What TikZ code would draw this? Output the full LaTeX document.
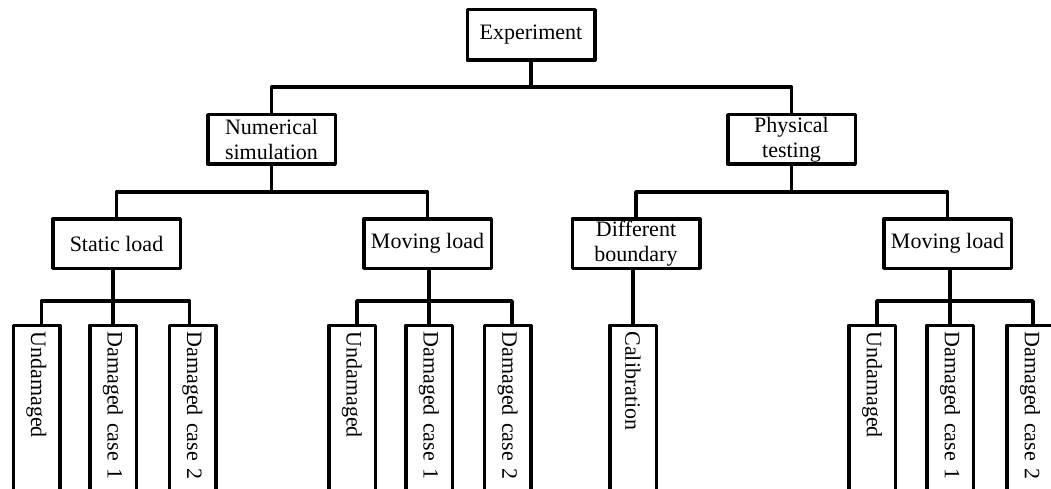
\documentclass[tikz,border=0pt]{standalone}
\usepackage{fontspec}
\setmainfont{Liberation Serif}
\usetikzlibrary{calc}
\begin{document}
\begin{tikzpicture}[x=1pt,y=-1pt,
  line width=3.5pt, line join=round,
  box/.style={draw, inner sep=0pt, align=center,
    font=\fontsize{22}{25}\selectfont},
  topbox/.style={box, minimum width=127.5pt, minimum height=50.5pt},
  midbox/.style={box, minimum width=127.5pt, minimum height=49.5pt},
  leafbox/.style={draw, rotate=-90, anchor=west, inner xsep=6pt, inner ysep=0pt,
    text width=188pt, align=left, minimum height=46.5pt,
    font=\fontsize{22}{25}\selectfont}]
\useasboundingbox (0,0) rectangle (1051,489);
\clip (0,0) rectangle (1051,489);

% bus levels
\coordinate (b0) at (0,87);
\coordinate (b1) at (0,192);
\coordinate (b2) at (0,301);

% tree nodes
\node[topbox] (exp) at (531,35) {Experiment};
\node[midbox] (num) at (271.5,139.5) {Numerical\\simulation};
\node[midbox] (phy) at (791.5,139.5) {Physical\\testing};
\node[midbox] (sta) at (116.5,243.5) {Static load};
\node[midbox] (mvl) at (427.5,243.5) {Moving load};
\node[midbox] (dif) at (636,243.5) {Different\\boundary};
\node[midbox] (mvr) at (947.5,243.5) {Moving load};

% leaves
\node[leafbox] (su)  at (36.5,323.75)  {Undamaged};
\node[leafbox] (s1)  at (113,323.75)   {Damaged case 1};
\node[leafbox] (s2)  at (192.5,323.75) {Damaged case 2};
\node[leafbox] (mu)  at (352,323.75)   {Undamaged};
\node[leafbox] (m1)  at (429,323.75)   {Damaged case 1};
\node[leafbox] (m2)  at (507.5,323.75) {Damaged case 2};
\node[leafbox] (cal) at (633,323.75)   {Calibration};
\node[leafbox] (pu)  at (872,323.75)   {Undamaged};
\node[leafbox] (p1)  at (950,323.75)   {Damaged case 1};
\node[leafbox] (p2)  at (1030,323.75)  {Damaged case 2};

% first level
\draw (exp.south) -- (exp.south |- b0);
\draw (num.north) -- (num.north |- b0) -- (phy.north |- b0) -- (phy.north);

% second level
\draw (num.south) -- (num.south |- b1);
\draw (sta.north) -- (sta.north |- b1) -- (mvl.north |- b1) -- (mvl.north);
\draw (phy.south) -- (phy.south |- b1);
\draw (dif.north) -- (dif.north |- b1) -- (mvr.north |- b1) -- (mvr.north);

% third level
\draw (s1.west) -- (s1.west |- sta.south);
\draw ($(su.west)+(5,0)$) -- ($(su.west |- b2)+(5,0)$) -- ($(s2.west |- b2)+(-3,0)$) -- ($(s2.west)+(-3,0)$);
\draw (m1.west) -- (m1.west |- mvl.south);
\draw ($(mu.west)+(5,0)$) -- ($(mu.west |- b2)+(5,0)$) -- ($(m2.west |- b2)+(4.5,0)$) -- ($(m2.west)+(4.5,0)$);
\draw (cal.west) -- (cal.west |- dif.south);
\draw (p1.west) -- (p1.west |- mvr.south);
\draw ($(pu.west)+(5,0)$) -- ($(pu.west |- b2)+(5,0)$) -- ($(p2.west |- b2)+(3,0)$) -- ($(p2.west)+(3,0)$);
\end{tikzpicture}
\end{document}
